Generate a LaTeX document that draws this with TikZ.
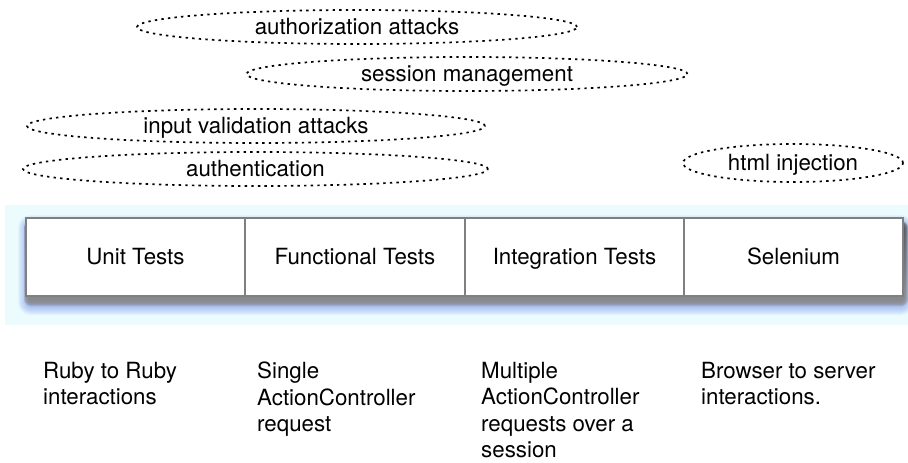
\documentclass[tikz,border=0pt]{standalone}
\usepackage{fontspec}
\setmainfont{TeX Gyre Heros}
\usetikzlibrary{shapes.geometric}

\definecolor{band}{RGB}{236,251,254}
\definecolor{frame}{RGB}{128,128,128}
\definecolor{shade}{RGB}{55,65,90}
\definecolor{glow}{RGB}{110,140,235}

\begin{document}
\begin{tikzpicture}[
  x=1pt, y=-1pt,
  every node/.style={font=\fontsize{22.3}{26.5}\selectfont, inner sep=0pt},
  test box/.style={rectangle, draw=frame, line width=1.5pt, fill=white, minimum width=219pt, minimum height=78pt, text height=18pt, text depth=3pt},
  attack/.style={ellipse, draw, line width=1.7pt, dash pattern=on 2.4pt off 4.2pt, minimum height=34pt, text height=18pt, text depth=3pt},
  note/.style={anchor=north west, align=left}
]
\useasboundingbox (0,0) rectangle (908,463);

% Background band and shadow
\fill[band] (5,205) rectangle (908,325);
\foreach \r in {1,...,13}
  \fill[glow, opacity=0.07, rounded corners=\r pt] (31-\r,228-\r) rectangle (901+\r,302+\r);
\foreach \r in {1,...,7}
  \fill[shade, opacity=0.2, rounded corners=\r pt] (31-\r,228-\r) rectangle (901+\r,299+\r);

% Attack ellipses
\node[attack, minimum width=440pt] (AA) at (357,27) {authorization attacks};
\node[attack, minimum width=441pt] (SM) at (467,74) {session management};
\node[attack, minimum width=458pt] (IV) at (256,126) {input validation attacks};
\node[attack, minimum width=465pt] (AU) at (255.5,169) {authentication};
\node[attack, minimum width=220pt, minimum height=38pt] (HI) at (793,163) {html injection};

% Test layers
\node[test box] (UT) at (135.5,257) {Unit Tests};
\node[test box] (FT) at (355,257) {Functional Tests};
\node[test box] (IT) at (574.5,257) {Integration Tests};
\node[test box] (SE) at (793.5,257) {Selenium};

% Notes
\node[note] (UTn) at (43,362) {Ruby to Ruby\\interactions};
\node[note] (FTn) at (257,362) {Single\\ActionController\\request};
\node[note] (ITn) at (481,362) {Multiple\\ActionController\\requests over a\\session};
\node[note] (SEn) at (701,362) {Browser to server\\interactions.};
\end{tikzpicture}
\end{document}
